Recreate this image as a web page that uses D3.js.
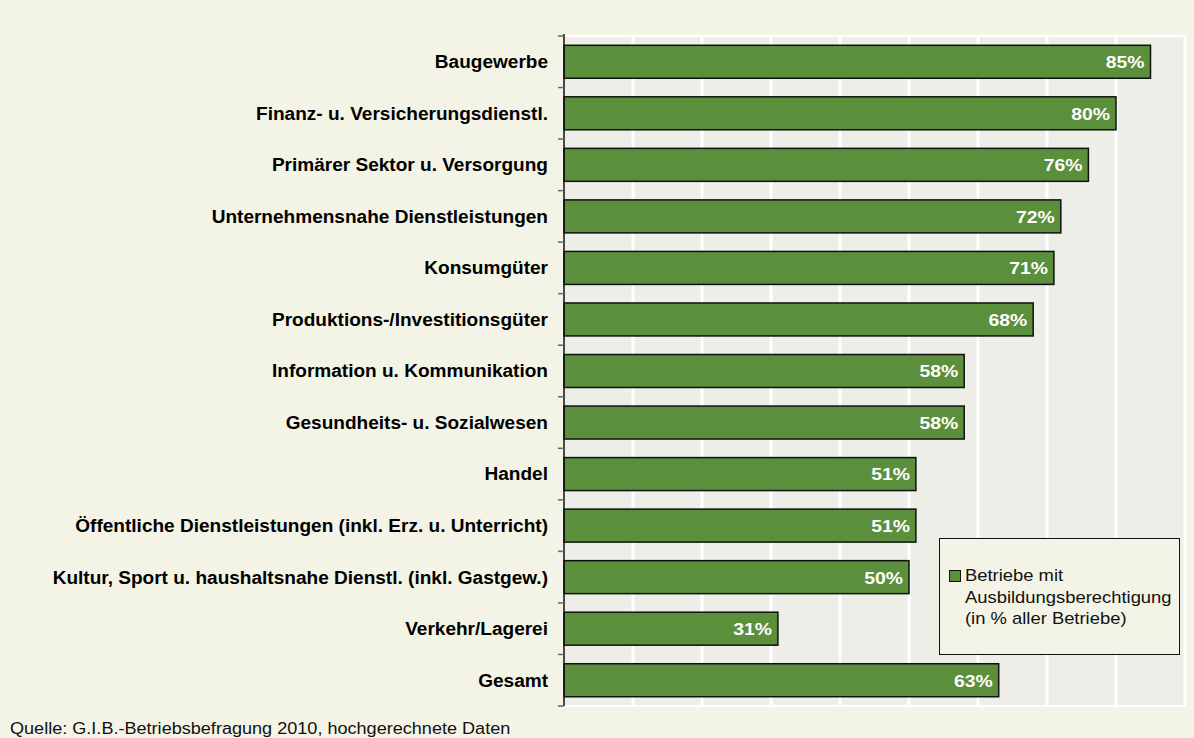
<!DOCTYPE html>
<html><head><meta charset="utf-8">
<script src="https://cdn.jsdelivr.net/npm/d3@7"></script>
<style>
html,body{margin:0;padding:0;background:#F4F4E6;}
svg{display:block;font-family:"Liberation Sans",Arial,sans-serif;}
</style></head>
<body>
<svg id="chart" width="1194" height="738"></svg>
<script>
const categories = [
  "Baugewerbe",
  "Finanz- u. Versicherungsdienstl.",
  "Primärer Sektor u. Versorgung",
  "Unternehmensnahe Dienstleistungen",
  "Konsumgüter",
  "Produktions-/Investitionsgüter",
  "Information u. Kommunikation",
  "Gesundheits- u. Sozialwesen",
  "Handel",
  "Öffentliche Dienstleistungen (inkl. Erz. u. Unterricht)",
  "Kultur, Sport u. haushaltsnahe Dienstl. (inkl. Gastgew.)",
  "Verkehr/Lagerei",
  "Gesamt"
];
const values = [85, 80, 76, 72, 71, 68, 58, 58, 51, 51, 50, 31, 63];
const gridTicks = [10, 20, 30, 40, 50, 60, 70, 80, 90];
const legendLines = ["Betriebe mit", "Ausbildungsberechtigung", "(in % aller Betriebe)"];
const sourceText = "Quelle: G.I.B.-Betriebsbefragung 2010, hochgerechnete Daten";

const svg = d3.select("#chart");
const pL = 564, pR = 1185, pT = 36, pB = 706;
const SX = 1.12; // horizontal stretch of the reference's text

const x = d3.scaleLinear().domain([0, 90]).range([pL, pR]);
const y = d3.scaleBand().domain(categories).range([pT, pB]).paddingInner(0.36).paddingOuter(0.18);

svg.append("rect").attr("x", 0).attr("y", 0).attr("width", 1194).attr("height", 738).attr("fill", "#F4F4E6");
svg.append("rect").attr("x", pL).attr("y", pT).attr("width", pR - pL).attr("height", pB - pT).attr("fill", "#EDEEE8");

svg.append("g").selectAll("line").data(gridTicks).join("line")
  .attr("x1", d => x(d)).attr("x2", d => x(d)).attr("y1", pT).attr("y2", pB)
  .attr("stroke", "#FFFFFF").attr("stroke-width", 3);
svg.append("line").attr("x1", pL).attr("x2", pR).attr("y1", pT).attr("y2", pT).attr("stroke", "#fff").attr("stroke-width", 2);
svg.append("line").attr("x1", pL).attr("x2", pR).attr("y1", pB).attr("y2", pB).attr("stroke", "#fff").attr("stroke-width", 2);

svg.append("g").selectAll("rect").data(values).join("rect")
  .attr("x", x(0)).attr("y", (d, i) => y(categories[i]))
  .attr("width", d => x(d) - x(0)).attr("height", y.bandwidth())
  .attr("fill", "#5B8F3B").attr("stroke", "#111").attr("stroke-width", 1.5);

svg.append("g").selectAll("text").data(values).join("text")
  .attr("transform", (d, i) => `translate(${x(d) - 6},${y(categories[i]) + y.bandwidth() / 2}) scale(${SX},1)`)
  .attr("dy", "0.37em").attr("text-anchor", "end")
  .attr("fill", "#fff").attr("font-weight", "bold").attr("font-size", 17.3)
  .text(d => d + "%");

// category axis
const step = (pB - pT) / categories.length;
const tickYs = d3.range(categories.length + 1).map(i => pT + i * step);
const ax = svg.append("g");
ax.append("line").attr("x1", pL).attr("x2", pL).attr("y1", pT - 2).attr("y2", pB).attr("stroke", "#111").attr("stroke-width", 1.5);
ax.selectAll("line.t").data(tickYs).join("line").attr("class", "t")
  .attr("x1", pL - 6).attr("x2", pL).attr("y1", d => d).attr("y2", d => d)
  .attr("stroke", "#666").attr("stroke-width", 1.5);
ax.selectAll("text").data(categories).join("text")
  .attr("transform", d => `translate(${pL - 16},${y(d) + y.bandwidth() / 2}) scale(1.07,1)`)
  .attr("dy", "0.36em")
  .attr("text-anchor", "end").attr("font-weight", "bold").attr("font-size", 17.8).attr("fill", "#000")
  .text(d => d);

// legend
const lg = svg.append("g");
lg.append("rect").attr("x", 939.5).attr("y", 538.5).attr("width", 240).attr("height", 116)
  .attr("fill", "#F4F4E6").attr("stroke", "#111").attr("stroke-width", 1);
lg.append("rect").attr("x", 949.5).attr("y", 570.5).attr("width", 11).attr("height", 11)
  .attr("fill", "#5B8F3B").attr("stroke", "#111").attr("stroke-width", 1);
lg.selectAll("text").data(legendLines).join("text")
  .attr("transform", (d, i) => `translate(965,${581 + i * 21.5}) scale(1.15,1)`)
  .attr("font-size", 16).attr("fill", "#111").text(d => d);

svg.append("text").attr("transform", "translate(10,734) scale(1.13,1)")
  .attr("font-size", 16).attr("fill", "#111").text(sourceText);
</script>
</body></html>
